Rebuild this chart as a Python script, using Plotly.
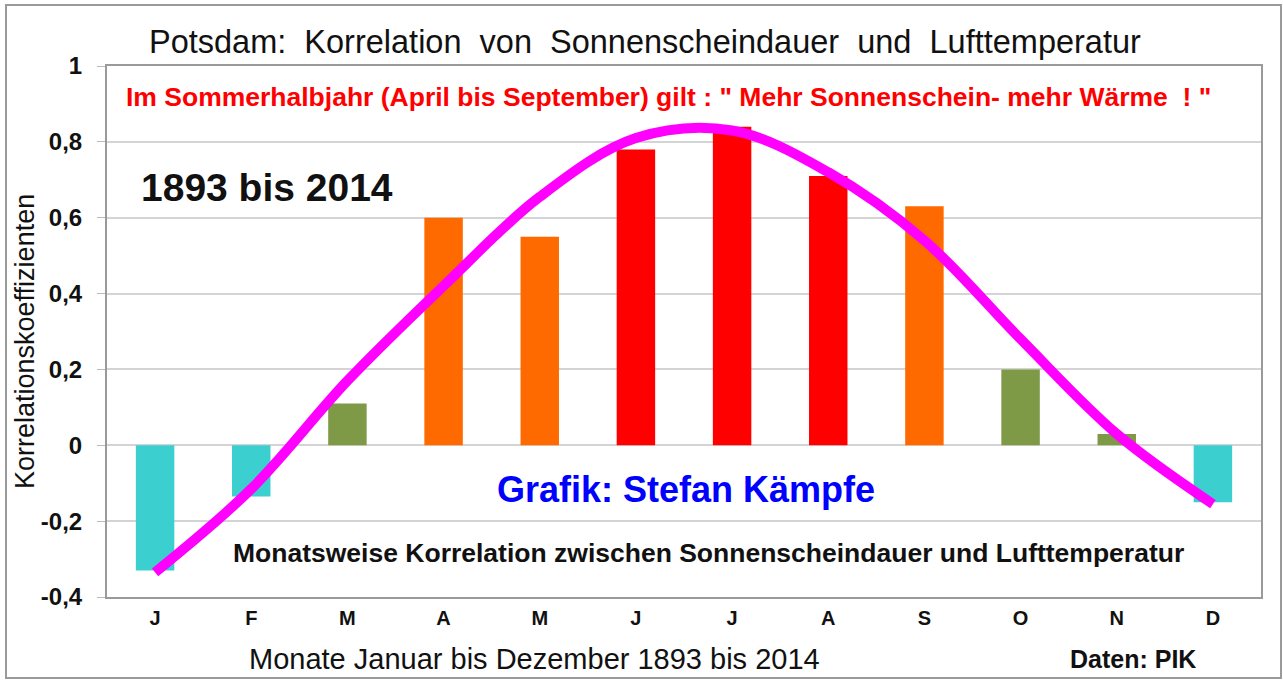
import plotly.graph_objects as go

months = ["J", "F", "M", "A", "M", "J", "J", "A", "S", "O", "N", "D"]
correlation = [-0.33, -0.135, 0.11, 0.60, 0.55, 0.78, 0.84, 0.71, 0.63, 0.20, 0.03, -0.15]
bar_colors = ["#3ccfcf", "#3ccfcf", "#7f9a46", "#ff6a00", "#ff6a00", "#ff0000",
              "#ff0000", "#ff0000", "#ff6a00", "#7f9a46", "#7f9a46", "#3ccfcf"]
trend = [-0.335, -0.115, 0.17, 0.42, 0.655, 0.81, 0.83, 0.72, 0.54, 0.28, 0.03, -0.155]
y_ticks = [-0.4, -0.2, 0, 0.2, 0.4, 0.6, 0.8, 1]
y_tick_text = ["-0,4", "-0,2", "0", "0,2", "0,4", "0,6", "0,8", "1"]

x_idx = list(range(len(months)))
FONT = "Liberation Sans, Arial, sans-serif"

fig = go.Figure()
fig.add_trace(go.Bar(x=x_idx, y=correlation, marker=dict(color=bar_colors, line=dict(width=0)),
                     width=0.4, showlegend=False))
fig.add_trace(go.Scatter(x=x_idx, y=trend, mode="lines",
                         line=dict(color="#ff00ff", width=10, shape="spline", smoothing=1.0),
                         showlegend=False))

W, H = 1283, 681
L, R, T, B = 107, 1261, 66, 597


def px(xp):
    return (xp - L) / (R - L)


def py(yp):
    return (B - yp) / (B - T)


annotations = [
    dict(text="Potsdam:  Korrelation  von  Sonnenscheindauer  und  Lufttemperatur",
         x=px(645), y=py(42), font=dict(size=32.5, color="#111111")),
    dict(text="<b>Im Sommerhalbjahr (April bis September) gilt : \" Mehr Sonnenschein- mehr Wärme  ! \"</b>",
         x=px(668), y=py(97), font=dict(size=26.5, color="#ff0000")),
    dict(text="<b>1893 bis 2014</b>", x=px(267), y=py(188), font=dict(size=39, color="#111111")),
    dict(text="<b>Grafik: Stefan Kämpfe</b>", x=px(686), y=py(489), font=dict(size=36, color="#0000ff")),
    dict(text="<b>Monatsweise Korrelation zwischen Sonnenscheindauer und Lufttemperatur</b>",
         x=px(708), y=py(553), font=dict(size=26.5, color="#111111")),
    dict(text="Monate Januar bis Dezember 1893 bis 2014", x=px(534), y=py(659),
         font=dict(size=29, color="#111111")),
    dict(text="<b>Daten: PIK</b>", x=px(1133), y=py(659), font=dict(size=25, color="#111111")),
    dict(text="Korrelationskoeffizienten", x=px(25), y=py(342), textangle=-90,
         font=dict(size=27, color="#111111")),
]
for a in annotations:
    a.update(xref="paper", yref="paper", showarrow=False, xanchor="center", yanchor="middle")

shapes = [
    dict(type="rect", xref="paper", yref="paper", x0=px(6), x1=px(1281), y0=py(678), y1=py(5),
         line=dict(color="#9a9a9a", width=2), layer="below"),
]

fig.update_layout(
    width=W, height=H,
    margin=dict(l=L, r=W - R, t=T, b=H - B, pad=0),
    paper_bgcolor="white", plot_bgcolor="white",
    font=dict(family=FONT, color="#111111"),
    annotations=annotations,
    shapes=shapes,
    xaxis=dict(range=[-0.5, 11.5], tickmode="array", tickvals=x_idx, ticktext=["<b>%s</b>" % m for m in months],
               tickfont=dict(size=20, color="#111111"), showgrid=False, zeroline=False,
               showline=True, linecolor="#9a9a9a", linewidth=2, mirror=True, ticks="", ticklabelstandoff=2),
    yaxis=dict(range=[-0.4, 1.0], tickmode="array", tickvals=y_ticks, ticktext=["<b>%s</b>" % t for t in y_tick_text],
               tickfont=dict(size=24, color="#111111"), showgrid=True, gridcolor="#d4d4d4", gridwidth=2,
               zeroline=False, showline=True, linecolor="#9a9a9a", linewidth=2, mirror=True,
               ticks="outside", ticklen=8, tickcolor="#bbbbbb", tickwidth=1, ticklabelstandoff=10),
)

fig.write_html("out.html", config={"displayModeBar": False},
               post_script="document.body.style.margin='0px';")
